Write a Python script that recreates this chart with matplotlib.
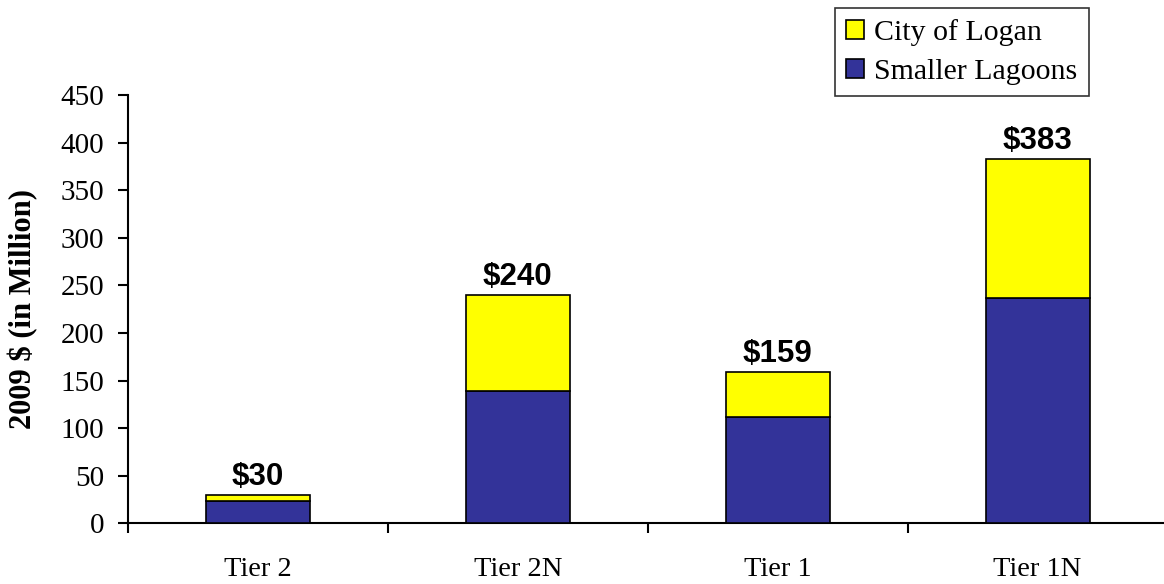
import matplotlib
matplotlib.use("Agg")
import matplotlib.pyplot as plt
import numpy as np

tiers = ["Tier 2", "Tier 2N", "Tier 1", "Tier 1N"]
smaller_lagoons = [23, 139, 112, 237]
totals = [30, 240, 159, 383]
city_of_logan = [t - s for t, s in zip(totals, smaller_lagoons)]

fig = plt.figure(figsize=(11.64, 5.84), dpi=100)
ax = fig.add_axes([0.110, 0.104, 0.893, 0.733])

x = np.arange(len(tiers))
blue = "#333399"
yellow = "#FFFF00"
ax.bar(x, smaller_lagoons, width=0.4, color=blue, edgecolor="black",
       linewidth=1.2, label="Smaller Lagoons", zorder=3)
ax.bar(x, city_of_logan, width=0.4, bottom=smaller_lagoons, color=yellow,
       edgecolor="black", linewidth=1.2, label="City of Logan", zorder=3)

for xi, t in zip(x, totals):
    ax.text(xi, t + 3, f"${t}", ha="center", va="bottom", fontsize=22.5,
            fontweight="bold", family="Liberation Sans")

ax.set_xlim(-0.5, len(tiers) - 0.5)
ax.set_ylim(0, 450)
ax.set_yticks(range(0, 451, 50))
ax.set_yticklabels([str(v) for v in range(0, 451, 50)], family="Liberation Serif",
                   fontsize=21)

# category ticks sit between the bars, labels centred under them
ax.set_xticks(np.arange(-0.5, len(tiers)), minor=False)
ax.set_xticklabels([])
ax.set_xticks(x, minor=True)
ax.set_xticklabels(tiers, minor=True, family="Liberation Serif", fontsize=20.5)
ax.tick_params(axis="x", which="minor", length=0, pad=24)
ax.tick_params(axis="x", which="major", direction="out", length=7, width=1.5)
ax.tick_params(axis="y", direction="out", length=7, width=1.5, pad=10)

for side in ["top", "right"]:
    ax.spines[side].set_visible(False)
ax.spines["left"].set_linewidth(1.5)
ax.spines["bottom"].set_linewidth(1.5)

ax.set_ylabel("2009 $ (in Million)", family="Liberation Serif", fontsize=22,
              fontweight="bold", labelpad=16)

handles, labels = ax.get_legend_handles_labels()
leg = fig.legend(handles[::-1], labels[::-1], loc="upper left",
                 bbox_to_anchor=(0.717, 0.986), frameon=True, fancybox=False,
                 edgecolor="black", handlelength=0.6, handleheight=0.6,
                 handletextpad=0.35, borderpad=0.38, labelspacing=0.42,
                 borderaxespad=0,
                 prop={"family": "Liberation Serif", "size": 21.5})
leg.get_frame().set_linewidth(1.2)

fig.savefig("out.png", dpi=100, facecolor="white")
